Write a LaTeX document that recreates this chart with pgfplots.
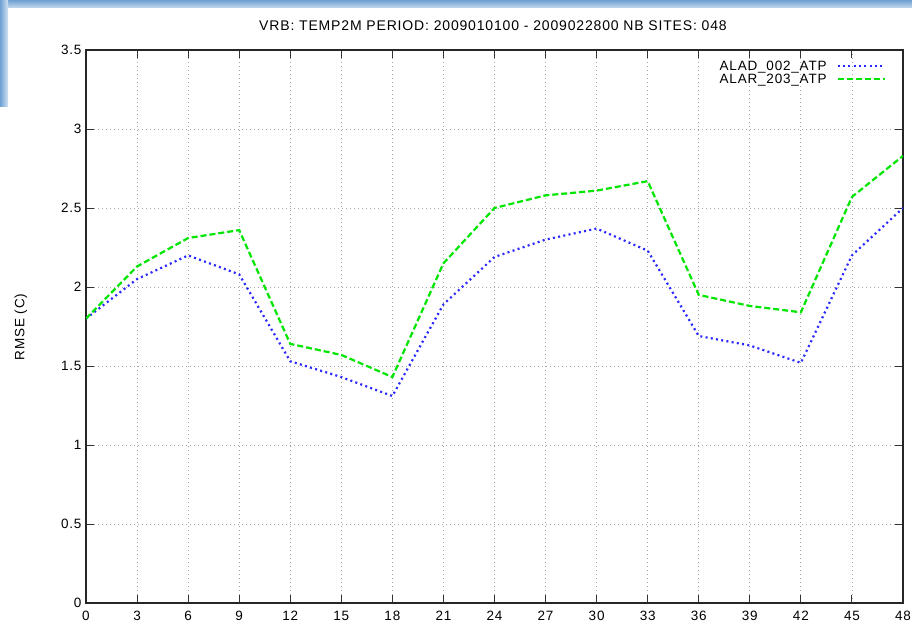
\documentclass[border=0pt]{standalone}
\usepackage{pgfplots}
\pgfplotsset{compat=1.18}
\usepackage{fontspec}
\setmainfont{Liberation Sans}[LetterSpace=6]
\definecolor{gpblue}{RGB}{40,40,255}
\definecolor{gpgreen}{RGB}{0,230,0}
\definecolor{frameblue}{RGB}{110,160,210}
\begin{document}
\begin{tikzpicture}
\useasboundingbox (0,0) rectangle (912pt,627pt);
\fill[white] (0,0) rectangle (912pt,627pt);
\shade[top color=frameblue, bottom color=frameblue!40] (0pt,619pt) rectangle (912pt,627pt);
\shade[left color=frameblue, right color=frameblue!30] (0pt,520pt) rectangle (8pt,627pt);
\begin{axis}[
  at={(86pt,24pt)}, anchor=south west,
  width=817pt, height=553pt, scale only axis,
  xmin=0, xmax=48, ymin=0, ymax=3.5,
  xtick={0,3,...,48},
  ytick={0,0.5,1,1.5,2,2.5,3,3.5},
  yticklabels={0,0.5,1,1.5,2,2.5,3,3.5},
  tick align=inside,
  major tick length=8pt,
  tick style={black!80, line width=0.9pt},
  axis line style={black!85, line width=1.3pt},
  grid=major,
  grid style={black!35, line width=0.8pt, dash pattern=on 1pt off 3pt},
  tick label style={font=\fontsize{13.5}{13.5}\selectfont},
  /pgf/number format/assume math mode=true,
  xticklabel style={yshift=-5pt},
  yticklabel style={xshift=-1pt},
  legend style={at={(1,1)}, anchor=north east, xshift=-17pt, yshift=-10pt,
    draw=none, fill=none, font=\fontsize{13.5}{13.5}\selectfont,
    row sep=1.5pt, inner sep=0pt,
    nodes={inner sep=0pt, text height=9.8pt, text depth=1.7pt},
    /tikz/every odd column/.append style={column sep=10pt}},
  legend plot pos=right,
  legend cell align=right,
  legend image code/.code={\draw[#1] (0pt,0pt) -- (47pt,0pt);},
]
\addplot[gpblue, line width=2.2pt, dash pattern=on 2pt off 3.3pt] coordinates {
(0,1.80) (3,2.05) (6,2.20) (9,2.08) (12,1.53) (15,1.43) (18,1.31) (21,1.89)
(24,2.19) (27,2.30) (30,2.37) (33,2.23) (36,1.69) (39,1.63) (42,1.52) (45,2.20) (48,2.50)};
\addlegendentry{ALAD\_002\_ATP}
\addplot[gpgreen, line width=2.2pt, dash pattern=on 6pt off 3pt] coordinates {
(0,1.80) (3,2.13) (6,2.31) (9,2.36) (12,1.64) (15,1.57) (18,1.43) (21,2.15)
(24,2.50) (27,2.58) (30,2.61) (33,2.67) (36,1.95) (39,1.88) (42,1.84) (45,2.57) (48,2.83)};
\addlegendentry{ALAR\_203\_ATP}
\end{axis}
\node[font=\fontsize{14}{14}\selectfont] at (493pt,601pt) {VRB: TEMP2M PERIOD: 2009010100 - 2009022800 NB SITES: 048};
\node[rotate=90, font=\fontsize{13.5}{13.5}\selectfont] at (21pt,300pt) {RMSE (C)};
\end{tikzpicture}
\end{document}
